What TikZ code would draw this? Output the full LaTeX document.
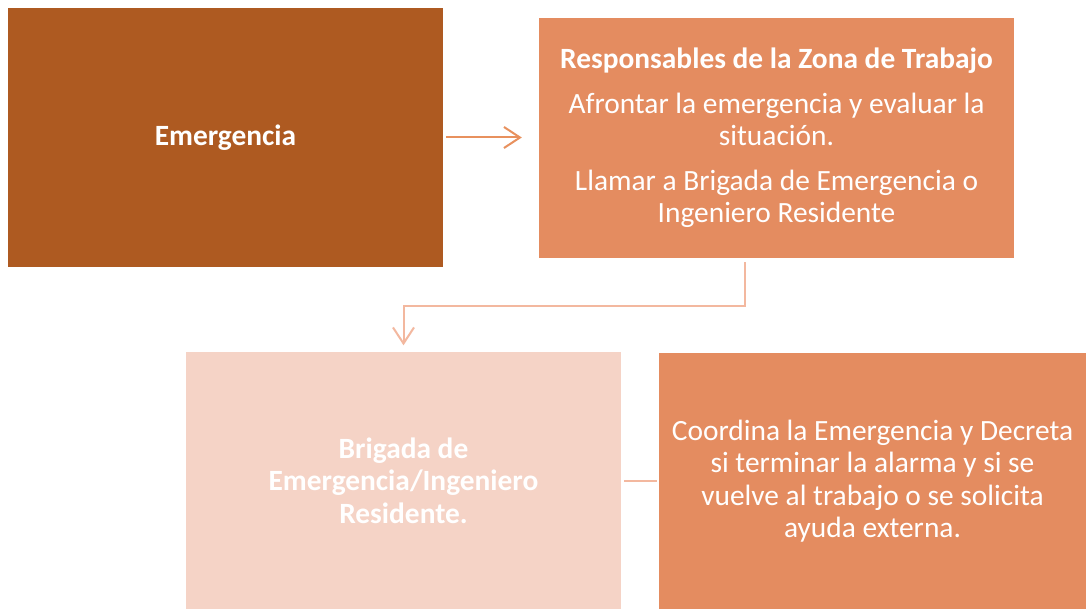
\documentclass[tikz,border=0pt]{standalone}
\usepackage{fontspec}
\setmainfont{Carlito}
\usetikzlibrary{arrows.meta}
\definecolor{darkor}{HTML}{AE5A21}
\definecolor{midor}{HTML}{E48C60}
\definecolor{lightpk}{HTML}{F5D3C6}
\definecolor{arrowor}{HTML}{E8915E}
\definecolor{arrowlt}{HTML}{F3B89F}
\tikzset{
  box/.style={inner sep=0pt, text=white, align=center, font=\fontsize{29.4}{32.5}\selectfont},
  conn/.style={line width=2pt},
}
\begin{document}
\begin{tikzpicture}[x=1pt,y=-1pt]
\useasboundingbox (0,0) rectangle (1086,609);
\fill[white] (0,0) rectangle (1086,609);
\node[box, fill=darkor, minimum width=435pt, minimum height=259pt] (emerg) at (225.5,137.5) {\bfseries Emergencia};
\node[box, fill=midor, minimum width=475pt, minimum height=240pt] (resp) at (776.5,138)
  {{\bfseries Responsables de la Zona de Trabajo}\\[12pt]
   Afrontar la emergencia y evaluar la\\ situación.\\[12pt]
   Llamar a Brigada de Emergencia o\\ Ingeniero Residente};
\node[box, fill=lightpk, minimum width=435pt, minimum height=258pt] (brig) at (403.5,480.5)
  {\bfseries Brigada de\\ \bfseries Emergencia/Ingeniero\\ \bfseries Residente.};
\node[box, fill=midor, minimum width=427pt, minimum height=256pt] (coord) at (872.5,481)
  {Coordina la Emergencia y Decreta\\ si terminar la alarma y si se\\ vuelve al trabajo o se solicita\\ ayuda externa.};
\draw[conn, arrowor, -{Straight Barb[length=16pt,width=21pt,line width=2pt]}, shorten <=3pt, shorten >=17pt] (emerg.east) -- (emerg.east -| resp.west);
\draw[conn, arrowlt, -{Straight Barb[length=16pt,width=21pt,line width=2pt]}, shorten <=4pt, shorten >=6pt]
  ([xshift=-31.5pt]resp.south) -- ++(0,48) -| (brig.north);
\draw[conn, arrowlt, shorten <=3pt, shorten >=2pt] (brig.east) -- (brig.east -| coord.west);
\end{tikzpicture}
\end{document}
